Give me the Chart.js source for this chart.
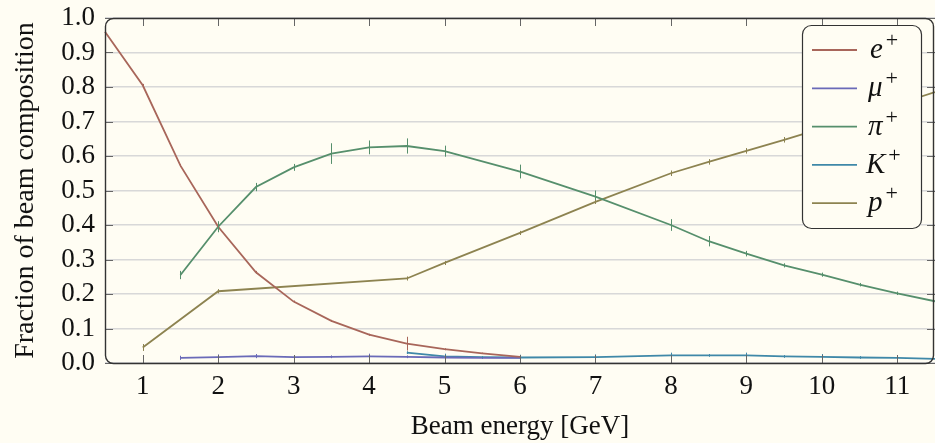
<!DOCTYPE html>
<html>
<head>
<meta charset="utf-8">
<script src="https://cdn.jsdelivr.net/npm/chart.js@4.4.0/dist/chart.umd.min.js"></script>
<style>
  html, body { margin: 0; padding: 0; background: #fffdf3; }
  #wrap { width: 935px; height: 443px; }
</style>
</head>
<body>
<div id="wrap"><canvas id="grafico"></canvas></div>
<script>
// Datos (energia en GeV, fraccion del haz)
const eX = [0.5, 1, 1.5, 2, 2.5, 3, 3.5, 4, 4.5, 5, 5.5, 6];
const eY = [0.96, 0.805, 0.572, 0.395, 0.263, 0.178, 0.122, 0.082, 0.056, 0.04, 0.028, 0.018];
const eErr = [0, 0.004, 0.004, 0.004, 0.004, 0.003, 0.003, 0.003, 0.02, 0.003, 0.002, 0.002];

const muX = [1.5, 2, 2.5, 3, 3.5, 4, 4.5, 5, 5.5, 6];
const muY = [0.015, 0.017, 0.02, 0.017, 0.018, 0.019, 0.018, 0.016, 0.015, 0.015];
const muErr = [0.006, 0.008, 0.006, 0.006, 0.004, 0.008, 0.004, 0.004, 0.003, 0.003];

const piX = [1.5, 2, 2.5, 3, 3.5, 4, 4.5, 5, 6, 7, 8, 8.5, 9, 9.5, 10, 10.5, 11, 11.5];
const piY = [0.255, 0.395, 0.51, 0.567, 0.607, 0.625, 0.629, 0.614, 0.555, 0.482, 0.4, 0.353, 0.317, 0.283, 0.256, 0.227, 0.202, 0.179];
const piErr = [0.012, 0.016, 0.012, 0.01, 0.03, 0.02, 0.022, 0.016, 0.02, 0.018, 0.017, 0.015, 0.008, 0.006, 0.006, 0.005, 0.005, 0.005];

const kX = [4.5, 5, 5.5, 6, 7, 8, 8.5, 9, 9.5, 10, 10.5, 11, 11.5];
const kY = [0.03, 0.019, 0.017, 0.016, 0.017, 0.022, 0.022, 0.022, 0.019, 0.018, 0.016, 0.015, 0.012];
const kErr = [0.004, 0.008, 0.003, 0.008, 0.008, 0.008, 0.004, 0.008, 0.004, 0.008, 0.004, 0.008, 0.004];

const pX = [1, 2, 4.5, 5, 6, 7, 8, 8.5, 9, 9.5, 10, 10.5, 11, 11.5];
const pY = [0.045, 0.208, 0.245, 0.29, 0.377, 0.467, 0.55, 0.583, 0.615, 0.647, 0.68, 0.715, 0.75, 0.785];
const pErr = [0.01, 0.006, 0.006, 0.006, 0.006, 0.006, 0.008, 0.008, 0.008, 0.008, 0.006, 0.006, 0.006, 0.006];

const etiquetas = ['e+', 'μ+', 'π+', 'K+', 'p+'];
const colores = ['#a8665a', '#6a6ab8', '#568f6c', '#3f88a8', '#8d8350'];
const xTicks = [1, 2, 3, 4, 5, 6, 7, 8, 9, 10, 11];
const yTicks = [0, 0.1, 0.2, 0.3, 0.4, 0.5, 0.6, 0.7, 0.8, 0.9, 1.0];

const series = [[eX, eY, eErr], [muX, muY, muErr], [piX, piY, piErr], [kX, kY, kErr], [pX, pY, pErr]];

const fuente = "'Liberation Serif', 'DejaVu Serif', serif";
const fondo = '#fffdf3';

const datasets = series.map((s, i) => ({
    label: etiquetas[i],
    data: s[0].map((x, j) => ({ x: x, y: s[1][j] })),
    errores: s[2],
    borderColor: colores[i],
    backgroundColor: colores[i],
    borderWidth: 1.8,
    pointRadius: 0,
    tension: 0,
    showLine: true,
    clip: false
}));

// Fondo, marco redondeado, marcas interiores, barras de error y leyenda
const extras = {
    id: 'extras',
    beforeDraw(chart) {
        const c = chart.ctx;
        c.save();
        c.fillStyle = fondo;
        c.fillRect(0, 0, chart.width, chart.height);
        c.restore();
    },
    afterDatasetsDraw(chart) {
        const c = chart.ctx;
        const xs = chart.scales.x, ys = chart.scales.y;
        c.save();
        chart.data.datasets.forEach(ds => {
            c.strokeStyle = ds.borderColor;
            c.lineWidth = 1;
            ds.data.forEach((p, j) => {
                const err = ds.errores[j];
                if (!err) return;
                const px = Math.round(xs.getPixelForValue(p.x)) + 0.5;
                c.beginPath();
                c.moveTo(px, ys.getPixelForValue(p.y - err));
                c.lineTo(px, ys.getPixelForValue(p.y + err));
                c.stroke();
            });
        });
        c.restore();
    },
    afterDraw(chart) {
        const c = chart.ctx;
        const a = chart.chartArea;
        const xs = chart.scales.x, ys = chart.scales.y;
        c.save();
        // marcas de los ejes hacia dentro
        c.strokeStyle = '#666';
        c.lineWidth = 1;
        const largo = 8;
        xTicks.forEach(v => {
            const px = Math.round(xs.getPixelForValue(v)) + 0.5;
            c.beginPath();
            c.moveTo(px, a.bottom); c.lineTo(px, a.bottom - largo);
            c.moveTo(px, a.top); c.lineTo(px, a.top + largo);
            c.stroke();
        });
        yTicks.forEach(v => {
            const py = Math.round(ys.getPixelForValue(v)) + 0.5;
            c.beginPath();
            c.moveTo(a.left, py); c.lineTo(a.left + largo, py);
            c.moveTo(a.right, py); c.lineTo(a.right - largo, py);
            c.stroke();
        });
        // marco
        c.strokeStyle = '#333';
        c.lineWidth = 1.4;
        c.beginPath();
        c.roundRect(a.left + 0.5, a.top + 0.5, a.right - a.left - 2, a.bottom - a.top, 8);
        c.stroke();

        // leyenda
        const lx = 802, ly = 25, lw = 119, lh = 203;
        c.fillStyle = fondo;
        c.strokeStyle = '#333';
        c.lineWidth = 1.2;
        c.beginPath();
        c.roundRect(lx + 0.5, ly + 0.5, lw, lh, 9);
        c.fill();
        c.stroke();
        chart.data.datasets.forEach((ds, i) => {
            const yy = 50 + i * 38.3;
            c.strokeStyle = ds.borderColor;
            c.lineWidth = 1.8;
            c.beginPath();
            c.moveTo(812, yy); c.lineTo(857, yy);
            c.stroke();
            const base = ds.label.slice(0, -1);
            c.fillStyle = '#111';
            c.textBaseline = 'alphabetic';
            c.textAlign = 'left';
            c.font = 'italic 29px ' + fuente;
            const bx = base === 'e' ? 870 : (base === 'K' ? 866 : 868);
            c.fillText(base, bx, yy + 8);
            const w = c.measureText(base).width;
            c.font = '22px ' + fuente;
            c.fillText('+', bx + w + 3, yy - 3);
        });
        c.restore();
    }
};

new Chart(document.getElementById('grafico'), {
    type: 'scatter',
    data: { datasets: datasets },
    options: {
        responsive: true,
        maintainAspectRatio: false,
        animation: false,
        layout: { padding: { top: 18, right: 0, left: 0, bottom: 0 } },
        plugins: {
            legend: { display: false },
            tooltip: { enabled: false }
        },
        scales: {
            x: {
                type: 'linear',
                min: 0.5,
                max: 11.5,
                afterBuildTicks: axis => { axis.ticks = xTicks.map(v => ({ value: v })); },
                afterFit: axis => { axis.height = 80; axis.paddingLeft = 0; axis.paddingRight = 0; },
                grid: { display: false, drawTicks: false },
                border: { display: false },
                ticks: {
                    color: '#111',
                    padding: 8,
                    autoSkip: false,
                    font: { family: fuente, size: 27 },
                    maxRotation: 0,
                    callback: v => String(v)
                },
                title: {
                    display: true,
                    text: 'Beam energy [GeV]',
                    color: '#111',
                    padding: { top: 0, bottom: 0 },
                    font: { family: fuente, size: 27 }
                }
            },
            y: {
                min: 0,
                max: 1,
                afterBuildTicks: axis => { axis.ticks = yTicks.map(v => ({ value: v })); },
                afterFit: axis => { axis.width = 105; axis.paddingTop = 0; axis.paddingBottom = 0; },
                grid: { color: '#d8d8d8', lineWidth: 1.6, drawTicks: false },
                border: { display: false },
                ticks: {
                    color: '#111',
                    padding: 10,
                    autoSkip: false,
                    font: { family: fuente, size: 27 },
                    callback: v => v.toFixed(1)
                },
                title: {
                    display: true,
                    text: 'Fraction of beam composition',
                    color: '#111',
                    padding: { top: 9, bottom: 0 },
                    font: { family: fuente, size: 28 }
                }
            }
        }
    },
    plugins: [extras]
});
</script>
</body>
</html>
